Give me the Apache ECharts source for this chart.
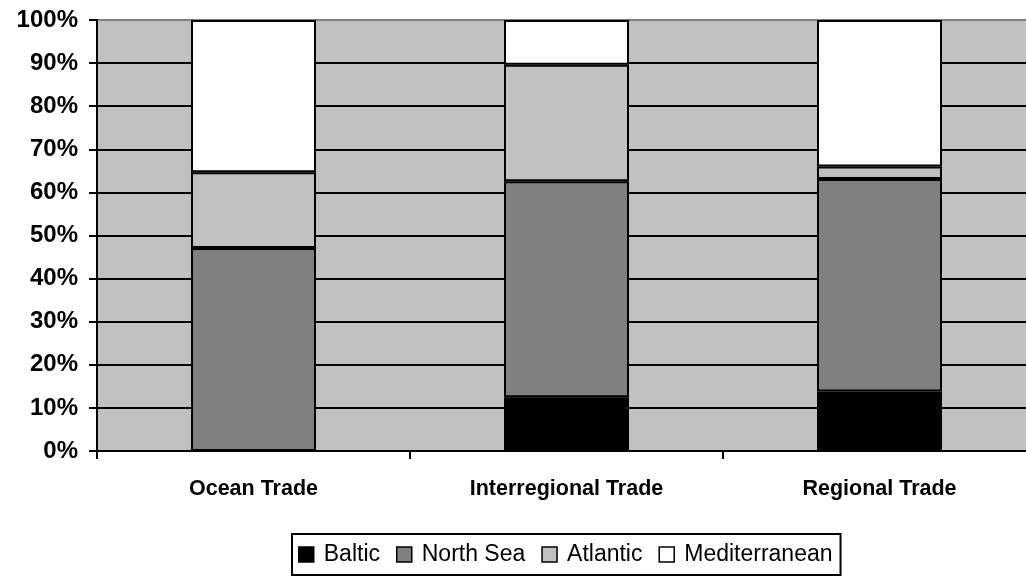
<!DOCTYPE html>
<html>
<head>
<meta charset="utf-8">
<script src="https://cdn.jsdelivr.net/npm/echarts@6/dist/echarts.min.js"></script>
<style>
  html, body { margin: 0; padding: 0; background: #ffffff; }
  #chart { width: 1026px; height: 578px; }
</style>
</head>
<body>
<div id="chart"></div>
<script>
// Share of trade by sea region (percent of each trade type)
const categories = ['Ocean Trade', 'Interregional Trade', 'Regional Trade'];
const baltic        = [0.0, 12.5, 13.8];
const northSea      = [47.1, 50.1, 49.3];
const atlantic      = [17.6, 27.0, 2.9];
const mediterranean = [35.3, 10.4, 34.0];
const yTicks = [0, 10, 20, 30, 40, 50, 60, 70, 80, 90, 100];

const FONT = "'Liberation Sans', Arial, sans-serif";

const seriesDefs = [
  { name: 'Baltic', data: baltic, color: '#000000' },
  { name: 'North Sea', data: northSea, color: '#808080' },
  { name: 'Atlantic', data: atlantic, color: '#C0C0C0' },
  { name: 'Mediterranean', data: mediterranean, color: '#FFFFFF' }
];

const chart = echarts.init(document.getElementById('chart'), null, { renderer: 'canvas' });

// gridlines are black except the top edge of the plot, which is grey
const splitColors = yTicks.map((t, i) => (i === yTicks.length - 1 ? '#808080' : '#000000'));

chart.setOption({
  animation: false,
  backgroundColor: '#ffffff',
  grid: {
    left: 97, top: 20, width: 939, bottom: 127,
    outerBoundsMode: 'none',
    containLabel: false,
    show: true,
    backgroundColor: '#C0C0C0',
    borderColor: '#808080',
    borderWidth: 2
  },
  legend: {
    left: 292, top: 534,
    orient: 'horizontal',
    backgroundColor: '#ffffff',
    borderColor: '#000000',
    borderWidth: 2,
    borderRadius: 0,
    padding: [9, 8, 9, 6],
    itemGap: 16,
    itemWidth: 15,
    itemHeight: 15,
    icon: 'rect',
    itemStyle: { borderColor: '#000000', borderWidth: 1.5 },
    textStyle: { fontFamily: FONT, fontSize: 23, color: '#000000', padding: [0, 0, 0, 5] },
    data: seriesDefs.map(s => s.name)
  },
  xAxis: {
    type: 'category',
    data: categories,
    boundaryGap: true,
    axisLine: { show: true, lineStyle: { color: '#000000', width: 2 } },
    axisTick: { show: true, inside: false, length: 8, lineStyle: { color: '#000000', width: 2 }, alignWithLabel: false },
    axisLabel: { fontFamily: FONT, fontSize: 21.5, fontWeight: 'bold', color: '#000000', margin: 27 },
    splitLine: { show: false }
  },
  yAxis: {
    type: 'value',
    min: 0, max: 100, interval: 10,
    axisLine: { show: true, lineStyle: { color: '#000000', width: 2 } },
    axisTick: { show: true, inside: false, length: 8, lineStyle: { color: '#000000', width: 2 } },
    axisLabel: {
      fontFamily: FONT, fontSize: 24, fontWeight: 'bold', color: '#000000', margin: 19,
      formatter: '{value}%'
    },
    splitLine: { show: true, lineStyle: { color: splitColors, width: 2 } }
  },
  series: seriesDefs.map(s => ({
    name: s.name,
    type: 'bar',
    stack: 'share',
    barWidth: 125,
    data: s.data,
    itemStyle: { color: s.color, borderColor: '#000000', borderWidth: 2 },
    emphasis: { disabled: true }
  }))
});
</script>
</body>
</html>
